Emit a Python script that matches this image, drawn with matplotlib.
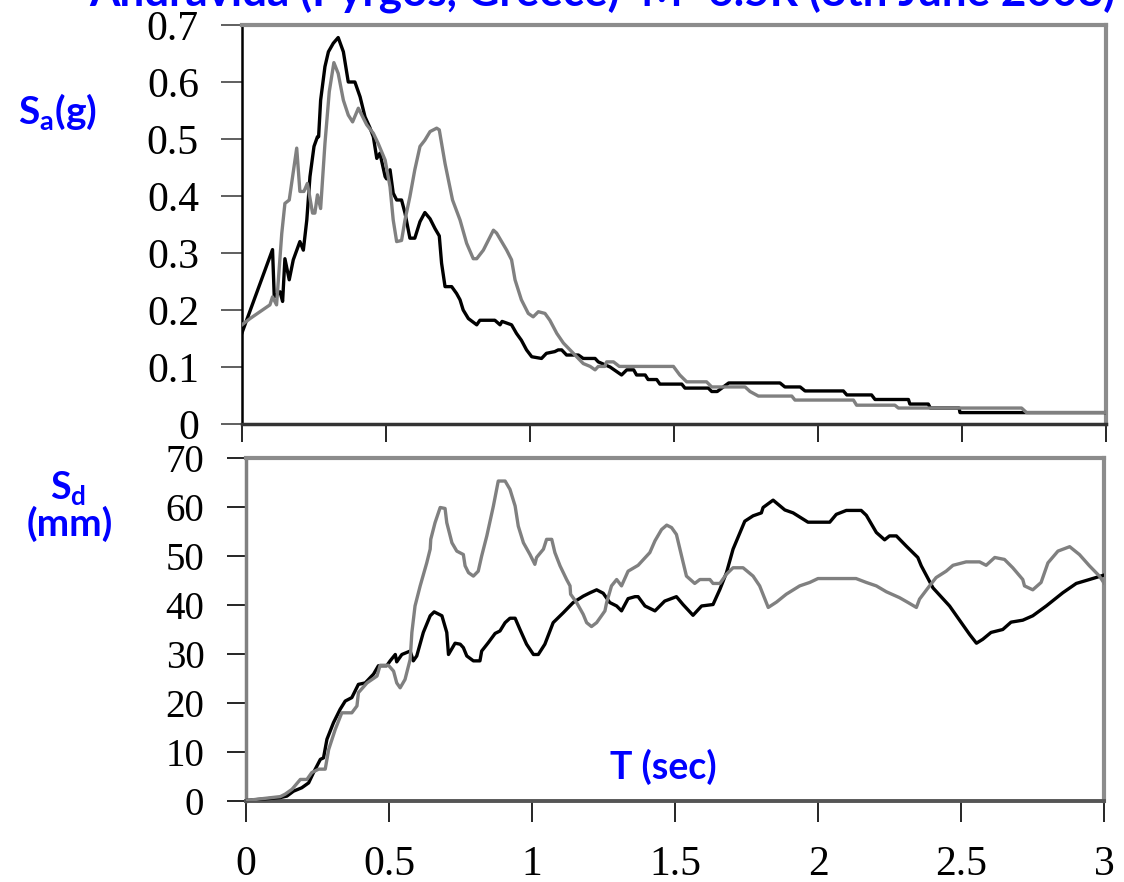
import matplotlib
matplotlib.use("Agg")
import matplotlib.pyplot as plt

# --- data ---
sa_black_t = [0, 0.106, 0.112, 0.132, 0.141, 0.149, 0.164, 0.178, 0.201, 0.213, 0.225, 0.236, 0.25,
              0.262, 0.266, 0.273, 0.288, 0.3, 0.317, 0.334, 0.352, 0.369, 0.392, 0.41, 0.427, 0.444,
              0.456, 0.468, 0.479, 0.497, 0.502, 0.514, 0.525, 0.537, 0.554, 0.566, 0.583, 0.6, 0.618,
              0.635, 0.653, 0.67, 0.685, 0.693, 0.705, 0.728, 0.745, 0.757, 0.768, 0.786, 0.815, 0.826,
              0.878, 0.896, 0.903, 0.936, 0.953, 0.97, 0.988, 1.006, 1.04, 1.057, 1.086, 1.098, 1.11,
              1.127, 1.168, 1.185, 1.226, 1.237, 1.278, 1.318, 1.336, 1.36, 1.37, 1.4, 1.41, 1.44,
              1.451, 1.527, 1.538, 1.619, 1.631, 1.65, 1.69, 1.868, 1.885, 1.938, 1.955, 2.088, 2.1,
              2.186, 2.198, 2.314, 2.319, 2.383, 2.39, 2.49, 2.493, 2.713, 3.0]
sa_black = [0.16, 0.306, 0.223, 0.232, 0.215, 0.29, 0.253, 0.288, 0.32, 0.305, 0.358, 0.434, 0.487,
            0.504, 0.504, 0.568, 0.627, 0.653, 0.668, 0.678, 0.653, 0.60, 0.60, 0.574, 0.539, 0.52,
            0.504, 0.466, 0.475, 0.434, 0.43, 0.446, 0.405, 0.393, 0.393, 0.37, 0.326, 0.326, 0.355,
            0.371, 0.36, 0.343, 0.33, 0.282, 0.241, 0.241, 0.229, 0.218, 0.2, 0.185, 0.174, 0.182,
            0.182, 0.174, 0.18, 0.174, 0.159, 0.147, 0.13, 0.118, 0.115, 0.124, 0.127, 0.13, 0.13,
            0.121, 0.121, 0.115, 0.115, 0.109, 0.1, 0.086, 0.095, 0.095, 0.086, 0.086, 0.078, 0.078,
            0.07, 0.07, 0.063, 0.063, 0.057, 0.057, 0.072, 0.072, 0.065, 0.065, 0.058, 0.058, 0.051,
            0.051, 0.043, 0.043, 0.035, 0.035, 0.028, 0.028, 0.02, 0.02, 0.02]

sa_gray_t = [0, 0.028, 0.097, 0.106, 0.12, 0.138, 0.149, 0.164, 0.19, 0.201, 0.215, 0.227, 0.245,
             0.253, 0.262, 0.273, 0.288, 0.303, 0.319, 0.334, 0.352, 0.369, 0.384, 0.404, 0.433,
             0.456, 0.473, 0.497, 0.514, 0.525, 0.537, 0.554, 0.566, 0.583, 0.6, 0.618, 0.635,
             0.653, 0.676, 0.685, 0.705, 0.731, 0.757, 0.78, 0.803, 0.815, 0.838, 0.873, 0.884,
             0.919, 0.936, 0.948, 0.97, 0.994, 1.011, 1.029, 1.052, 1.069, 1.093, 1.116, 1.139,
             1.162, 1.185, 1.209, 1.226, 1.237, 1.26, 1.266, 1.29, 1.31, 1.498, 1.52, 1.544, 1.613,
             1.631, 1.747, 1.764, 1.793, 1.909, 1.92, 2.123, 2.134, 2.267, 2.279, 2.707, 2.724, 3.0]
sa_gray = [0.174, 0.185, 0.209, 0.223, 0.209, 0.334, 0.387, 0.393, 0.484, 0.408, 0.408, 0.422, 0.37,
           0.37, 0.402, 0.378, 0.492, 0.583, 0.634, 0.615, 0.568, 0.542, 0.53, 0.554, 0.525, 0.51,
           0.492, 0.463, 0.416, 0.358, 0.32, 0.322, 0.358, 0.399, 0.446, 0.487, 0.498, 0.513, 0.519,
           0.516, 0.457, 0.393, 0.358, 0.317, 0.29, 0.29, 0.305, 0.34, 0.335, 0.305, 0.288, 0.253,
           0.218, 0.194, 0.188, 0.197, 0.194, 0.182, 0.159, 0.142, 0.13, 0.118, 0.106, 0.101, 0.095,
           0.101, 0.101, 0.109, 0.109, 0.101, 0.101, 0.086, 0.074, 0.074, 0.065, 0.065, 0.057,
           0.049, 0.049, 0.042, 0.042, 0.033, 0.033, 0.028, 0.028, 0.02, 0.02]

sd_black_t = [0, 0.12, 0.143, 0.166, 0.195, 0.219, 0.236, 0.26, 0.271, 0.283, 0.306, 0.329, 0.347,
              0.37, 0.393, 0.417, 0.446, 0.463, 0.492, 0.504, 0.522, 0.527, 0.545, 0.574, 0.585,
              0.597, 0.62, 0.644, 0.658, 0.685, 0.702, 0.708, 0.731, 0.749, 0.76, 0.772, 0.795,
              0.818, 0.824, 0.847, 0.871, 0.888, 0.906, 0.923, 0.941, 0.958, 0.981, 1.005, 1.022,
              1.045, 1.074, 1.109, 1.144, 1.179, 1.203, 1.226, 1.249, 1.272, 1.296, 1.313, 1.336,
              1.36, 1.371, 1.395, 1.43, 1.464, 1.505, 1.528, 1.563, 1.593, 1.633, 1.657, 1.68, 1.703,
              1.744, 1.773, 1.802, 1.808, 1.843, 1.884, 1.913, 1.965, 2.041, 2.064, 2.099, 2.151,
              2.169, 2.204, 2.233, 2.25, 2.274, 2.309, 2.349, 2.361, 2.402, 2.46, 2.501, 2.53, 2.554,
              2.576, 2.605, 2.646, 2.675, 2.716, 2.751, 2.798, 2.856, 2.903, 2.949, 3.0]
sd_black = [0.1, 0.7, 1.0, 2.0, 2.7, 3.7, 5.8, 8.5, 8.8, 12.6, 16.0, 18.7, 20.4, 21.1, 23.8, 24.1,
            25.9, 27.6, 27.6, 28.6, 29.9, 28.4, 29.9, 30.6, 28.6, 29.6, 34.4, 37.8, 38.6, 37.8, 34.4,
            29.9, 32.2, 32.0, 31.3, 29.6, 28.6, 28.6, 30.6, 32.3, 34.2, 34.7, 36.4, 37.3, 37.3, 35.0,
            32.0, 29.9, 29.9, 32.0, 36.4, 38.4, 40.5, 41.8, 42.5, 43.1, 42.4, 40.5, 39.8, 38.8, 41.3,
            41.7, 41.7, 39.8, 38.8, 40.8, 41.7, 40.1, 37.9, 39.8, 40.1, 43.2, 46.6, 51.4, 57.1, 58.2,
            58.8, 59.9, 61.4, 59.4, 58.8, 56.9, 56.9, 58.5, 59.3, 59.3, 58.3, 54.8, 53.3, 54.1, 54.1,
            52.0, 49.7, 48.0, 43.5, 39.8, 36.4, 34.0, 32.2, 33.0, 34.4, 35.0, 36.5, 36.9, 37.8, 39.8,
            42.5, 44.4, 45.2, 46.1]

sd_gray_t = [0, 0.12, 0.137, 0.161, 0.19, 0.213, 0.23, 0.254, 0.277, 0.289, 0.312, 0.335, 0.37,
             0.388, 0.393, 0.423, 0.458, 0.469, 0.498, 0.516, 0.527, 0.539, 0.556, 0.574, 0.58,
             0.591, 0.609, 0.632, 0.644, 0.646, 0.661, 0.679, 0.696, 0.702, 0.72, 0.737, 0.76,
             0.766, 0.778, 0.795, 0.812, 0.824, 0.842, 0.865, 0.882, 0.906, 0.923, 0.941, 0.952,
             0.97, 0.993, 1.01, 1.016, 1.04, 1.051, 1.069, 1.08, 1.098, 1.121, 1.133, 1.135, 1.156,
             1.179, 1.191, 1.208, 1.226, 1.243, 1.255, 1.261, 1.278, 1.296, 1.313, 1.336, 1.371,
             1.412, 1.43, 1.453, 1.471, 1.488, 1.505, 1.523, 1.54, 1.569, 1.587, 1.622, 1.633,
             1.657, 1.68, 1.703, 1.738, 1.773, 1.796, 1.826, 1.855, 1.889, 1.936, 1.971, 2.0, 2.133,
             2.169, 2.204, 2.239, 2.285, 2.315, 2.344, 2.355, 2.39, 2.413, 2.448, 2.472, 2.518,
             2.565, 2.588, 2.618, 2.652, 2.681, 2.716, 2.722, 2.751, 2.78, 2.804, 2.839, 2.88,
             2.914, 2.949, 2.984, 3.0]
sd_gray = [0.1, 0.9, 1.4, 2.4, 4.4, 4.4, 5.8, 6.5, 6.5, 10.5, 14.6, 18.0, 18.0, 19.4, 22.1, 24.1,
           25.5, 27.7, 27.7, 26.5, 24.1, 23.1, 24.8, 28.9, 34.4, 39.8, 43.9, 48.6, 51.4, 53.4, 56.8,
           59.9, 59.7, 56.8, 52.7, 51.0, 50.3, 48.0, 46.6, 45.9, 46.9, 50.0, 54.1, 60.2, 65.3, 65.3,
           63.6, 60.2, 56.1, 52.7, 50.3, 48.3, 49.7, 51.4, 53.4, 53.4, 50.7, 48.0, 45.2, 43.9, 42.2,
           40.5, 38.1, 36.4, 35.6, 36.4, 37.8, 38.8, 40.5, 43.9, 45.2, 43.9, 46.9, 48.1, 50.7, 53.1,
           55.4, 56.3, 55.8, 54.4, 50.0, 45.9, 44.4, 45.2, 45.2, 44.4, 44.4, 46.3, 47.6, 47.6, 45.9,
           43.9, 39.5, 40.6, 42.2, 43.9, 44.6, 45.4, 45.4, 44.6, 43.9, 42.7, 41.5, 40.5, 39.5, 41.2,
           43.9, 45.6, 46.9, 48.1, 48.8, 48.8, 48.1, 49.7, 49.3, 47.6, 45.2, 43.9, 43.1, 44.6, 48.6,
           51.0, 51.9, 50.3, 48.0, 45.9, 44.5]

x_ticks = [0, 0.5, 1, 1.5, 2, 2.5, 3]
x_labels = ["0", "0.5", "1", "1.5", "2", "2.5", "3"]
sa_ticks = [0, 0.1, 0.2, 0.3, 0.4, 0.5, 0.6, 0.7]
sa_labels = ["0", "0.1", "0.2", "0.3", "0.4", "0.5", "0.6", "0.7"]
sd_ticks = [0, 10, 20, 30, 40, 50, 60, 70]
sd_labels = ["0", "10", "20", "30", "40", "50", "60", "70"]

title = "Andravida (Pyrgos, Greece)  M=6.5R (8th June 2008)"

BLUE = "#0000ff"
GRAY = "#808080"
FRAME = "#8c8c8c"

plt.rcParams["mathtext.fontset"] = "custom"
plt.rcParams["mathtext.rm"] = "Lato:bold"
plt.rcParams["mathtext.it"] = "Lato:bold"
plt.rcParams["mathtext.bf"] = "Lato:bold"

fig = plt.figure(figsize=(11.24, 8.82), dpi=100)
ax1 = fig.add_axes([242 / 1124, 1 - 424 / 882, 864 / 1124, 399 / 882])
ax2 = fig.add_axes([246 / 1124, 1 - 801 / 882, 858 / 1124, 343 / 882])

serif = "Liberation Serif"

ax1.plot(sa_black_t, sa_black, color="black", lw=2.4, zorder=3)
ax1.plot(sa_gray_t, sa_gray, color=GRAY, lw=2.4, zorder=4)
ax1.set_xlim(0, 3)
ax1.set_ylim(0, 0.7)
ax1.set_xticks(x_ticks)
ax1.set_xticklabels([])
ax1.set_yticks(sa_ticks)
ax1.set_yticklabels(sa_labels, fontfamily=serif, fontsize=30)
ax1.tick_params(axis="x", direction="out", length=13, width=1.2, color="black")
ax1.tick_params(axis="y", direction="out", length=15, width=1.2, color="#444444", pad=16)

ax2.plot(sd_black_t, sd_black, color="black", lw=2.4, zorder=3)
ax2.plot(sd_gray_t, sd_gray, color=GRAY, lw=2.4, zorder=4)
ax2.set_xlim(0, 3)
ax2.set_ylim(0, 70)
ax2.set_xticks(x_ticks)
ax2.set_xticklabels(x_labels, fontfamily=serif, fontsize=30)
ax2.set_yticks(sd_ticks)
ax2.set_yticklabels(sd_labels, fontfamily=serif, fontsize=28)
ax2.tick_params(axis="x", direction="out", length=15, width=1.2, color="black", pad=17)
ax2.tick_params(axis="y", direction="out", length=14, width=1.2, color="black", pad=16)

for ax in (ax1, ax2):
    ax.spines["top"].set_color(FRAME)
    ax.spines["right"].set_color(FRAME)
    ax.spines["top"].set_linewidth(3)
    ax.spines["right"].set_linewidth(3)
ax1.spines["left"].set_color("black")
ax1.spines["left"].set_linewidth(1.8)
ax1.spines["bottom"].set_color("#333333")
ax1.spines["bottom"].set_linewidth(2.5)
ax2.spines["left"].set_color(GRAY)
ax2.spines["left"].set_linewidth(2.5)
ax2.spines["bottom"].set_color("#555555")
ax2.spines["bottom"].set_linewidth(2.8)

# labels
t = fig.text(602 / 1124, 1 - 7 / 882, title, ha="center", va="baseline", color=BLUE,
             fontfamily="Lato", fontweight="bold", fontsize=27)
fig.canvas.draw()
w = t.get_window_extent().width
t.set_fontsize(27 * 1025 / w)

fig.text(57 / 1124, 1 - 124 / 882, r"$\mathrm{S_a(g)}$", ha="center", va="baseline",
         color=BLUE, fontsize=28)
fig.text(68 / 1124, 1 - 499 / 882, r"$\mathrm{S_d}$", ha="center", va="baseline",
         color=BLUE, fontsize=27)
fig.text(70 / 1124, 1 - 536 / 882, "(mm)", ha="center", va="baseline", color=BLUE,
         fontfamily="Lato", fontweight="bold", fontsize=28)
fig.text(610 / 1124, 1 - 779 / 882, "T (sec)", ha="left", va="baseline", color=BLUE,
         fontfamily="Lato", fontweight="bold", fontsize=27)

fig.savefig("out.png", dpi=100)
